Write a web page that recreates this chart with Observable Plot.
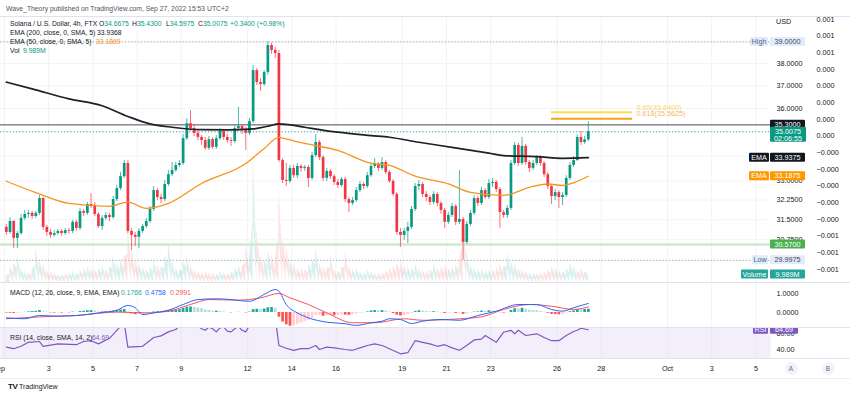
<!DOCTYPE html>
<html><head><meta charset="utf-8">
<script src="https://cdn.jsdelivr.net/npm/d3@7"></script>
<script src="https://cdn.jsdelivr.net/npm/@observablehq/plot@0.6"></script>
<style>
body{margin:0;background:#fff;}
#root{position:relative;width:850px;height:394px;overflow:hidden;background:#fff;font-family:"Liberation Sans",Arial,sans-serif;color:#131722;}
.layer{position:absolute;left:0;width:850px;}
.layer svg{display:block;}
.txt{position:absolute;white-space:nowrap;font-size:6.8px;line-height:9px;z-index:5;}
.hl{position:absolute;left:0;width:850px;height:1px;background:#e0e3eb;z-index:4;}
.btn{position:absolute;width:13px;height:13px;border-radius:50%;background:#f0f3fa;color:#6a6d78;font-size:6.5px;line-height:13px;text-align:center;z-index:5;}
</style></head>
<body><div id="root">
<div class="txt" style="left:6px;top:3.5px;color:#50535e;">Wave_Theory published on TradingView.com, Sep 27, 2022 15:53 UTC+2</div>
<div class="hl" style="top:16px;"></div>
<div id="vol" class="layer" style="top:17px;"></div>
<div id="price" class="layer" style="top:17px;"></div>
<div id="aux" class="layer" style="top:0px;"></div>
<div class="hl" style="top:282px;"></div>
<div id="macd" class="layer" style="top:283px;"></div>
<div class="hl" style="top:327px;"></div>
<div id="rsi" class="layer" style="top:327px;"></div>
<div class="hl" style="top:358px;"></div>
<div id="xaxis" class="layer" style="top:358px;"></div>
<div class="hl" style="top:378px;background:#eceef2;"></div>
<div id="legend"></div>
</div>
<script>
// ---------------- DATA ----------------
const startTime = "2022-09-01T00:00:00Z";
const candleHours = 4;
const openFirst = 31.21;
const closes = [
 31.02,31.43,30.80,30.98,31.55,31.70, 31.74,31.62,31.74,32.31,31.21,31.02,
 30.91,30.98,31.06,30.98,31.09,31.06, 31.40,31.17,31.81,31.74,32.08,32.04,
 31.70,31.24,31.55,31.66,31.58,32.27, 32.70,33.17,33.70,31.06,30.91,30.84,
 31.06,31.24,31.43,31.89,32.62,32.35, 32.27,32.86,33.25,33.42,33.62,33.70,
 34.72,35.35,35.14,34.94,34.77,34.64, 34.32,34.68,34.36,34.72,35.02,34.77,
 34.64,34.60,35.14,35.23,35.06,34.94, 35.44,37.68,37.14,37.05,37.59,38.83,
 38.60,38.46,33.82,33.02,32.98,33.50, 33.21,33.58,33.50,33.54,33.10,34.02,
 34.56,33.94,33.10,33.38,33.17,32.94, 32.82,33.06,32.27,32.12,32.23,32.62,
 32.86,32.78,33.21,33.58,33.66,33.50, 33.74,33.34,32.98,32.47,31.02,30.91,
 31.06,31.21,31.89,32.78,32.86,32.47, 32.35,32.16,32.47,32.12,31.85,31.40,
 31.66,32.00,31.40,31.51,30.65,31.32, 31.74,32.31,32.12,32.62,32.35,32.90,
 32.94,32.66,31.77,31.66,31.93,33.70, 34.44,33.70,34.40,33.74,33.50,33.70,
 33.94,33.70,33.25,32.78,32.39,32.54, 32.35,32.43,33.10,33.62,33.82,34.77,
 34.56,34.6675,35.0075];
const highs = [
 31.32,31.58,31.47,31.06,31.70,31.85, 31.85,31.81,31.81,32.43,32.35,31.28,
 31.13,31.09,31.13,31.13,31.17,31.17, 31.47,31.47,31.93,31.89,32.16,32.50,
 32.16,31.77,31.66,31.77,31.74,32.39, 32.82,33.34,33.82,33.82,31.17,31.02,
 31.17,31.32,31.55,32.00,32.78,32.70, 32.47,33.02,33.42,33.74,33.74,33.82,
 34.89,35.57,35.91,35.31,35.06,34.85, 34.77,34.81,34.77,34.85,35.14,35.10,
 34.89,34.77,35.27,36.05,35.31,35.19, 35.57,37.91,37.77,37.32,37.68,39.00,
 38.95,38.74,38.60,33.90,33.70,33.62, 33.62,33.70,33.66,33.62,33.62,34.15,
 34.89,34.64,34.02,33.50,33.46,33.25, 33.06,33.14,33.14,32.35,32.35,32.74,
 32.98,32.94,33.34,33.70,33.90,33.74, 33.94,33.82,33.42,33.06,32.54,31.17,
 31.17,31.40,32.00,32.90,33.02,32.94, 32.58,32.43,32.58,32.54,32.19,31.93,
 31.77,32.12,32.08,33.42,31.58,31.43, 31.85,32.43,32.39,32.74,32.70,33.06,
 33.10,33.02,32.74,31.85,32.04,33.82, 34.56,34.52,34.77,34.48,33.82,33.82,
 34.02,34.02,33.78,33.34,32.86,32.66, 32.62,32.54,33.21,33.74,33.98,34.89,
 35.02,34.81,35.43];
const lows = [
 30.91,30.95,30.43,30.43,30.91,31.47, 31.55,31.51,31.55,31.66,31.09,30.87,
 30.80,30.84,30.91,30.87,30.91,30.95, 30.98,31.06,31.09,31.62,31.66,31.93,
 31.62,31.17,31.09,31.47,31.43,31.51, 32.19,32.62,33.10,30.98,30.35,30.50,
 30.43,30.98,31.17,31.36,31.81,32.23, 32.12,32.19,32.78,33.17,33.34,33.54,
 33.62,34.64,35.02,34.81,34.64,34.44, 34.23,34.23,34.27,34.27,34.64,34.64,
 34.52,34.40,34.52,35.06,34.89,34.23, 34.85,35.35,37.01,36.75,36.97,37.46,
 38.42,38.23,33.74,32.90,32.78,32.90, 33.10,33.10,33.34,33.38,32.74,33.02,
 33.94,33.82,32.98,32.98,33.06,32.82, 32.70,32.74,32.16,31.77,32.04,32.16,
 32.54,32.66,32.70,33.14,33.50,33.38, 33.42,33.25,32.90,32.39,30.91,30.47,
 30.72,30.61,31.13,31.81,32.62,32.35, 32.19,32.04,32.08,32.00,31.70,31.17,
 31.32,31.58,31.28,31.32,29.9975,30.58, 31.24,31.66,32.00,32.04,32.27,32.27,
 32.74,32.54,31.17,31.55,31.55,31.85, 33.62,33.58,33.62,33.62,33.34,33.42,
 33.62,33.58,33.14,32.66,32.08,32.23, 31.93,32.04,32.35,33.02,33.54,33.78,
 34.44,34.48,34.5975];
// volume, millions
const volumes = [
 8,10,12,17,9,7, 6,8,22,14,12,8, 7,6,5,5,6,6, 7,6,8,9,10,9,
 8,9,11,8,10,17, 12,14,16,35,22,14, 12,10,8,9,14,11, 10,16,27,14,9,8,
 13,17,11,8,7,6, 7,6,6,5,7,6, 6,7,9,11,10,24, 16,80,34,18,14,20,
 18,14,60,30,24,14, 12,9,10,8,12,14, 22,12,10,9,17,8, 7,9,19,10,8,9,
 7,6,8,7,6,6, 6,8,9,10,12,13, 11,10,9,12,9,8, 7,8,12,9,10,11,
 9,10,11,14,46,20, 11,9,8,9,7,8, 8,9,12,10,19,14, 12,9,8,7,6,6,
 6,6,7,8,10,9, 8,7,9,12,10,8, 9,7,9.989];
// MACD histogram per candle
const macdHist = [
 -0.03,-0.04,-0.05,-0.04,-0.02,0.01, 0.03,0.05,0.06,0.1,0.04,0.02,
 -0.02,-0.03,-0.02,-0.03,-0.01,-0.02, 0.02,0.01,0.05,0.06,0.09,0.1,
 0.07,0.02,0.03,0.04,0.03,0.07, 0.1,0.13,0.16,0.02,-0.08,-0.12,
 -0.11,-0.09,-0.06,-0.03,0.03,0.04, 0.03,0.07,0.1,0.12,0.14,0.15,
 0.22,0.28,0.29,0.27,0.24,0.2, 0.13,0.11,0.07,0.07,0.06,0.03,
 0,-0.02,0,0.01,0,-0.02, 0.02,0.15,0.17,0.16,0.18,0.25,
 0.26,0.22,-0.25,-0.5,-0.65,-0.72, -0.7,-0.62,-0.55,-0.48,-0.42,-0.3,
 -0.15,-0.14,-0.2,-0.17,-0.16,-0.17, -0.16,-0.12,-0.14,-0.15,-0.12,-0.08,
 -0.04,-0.02,0.03,0.08,0.1,0.09, 0.1,0.07,0.02,-0.06,-0.14,-0.18,
 -0.15,-0.12,-0.05,0.05,0.09,0.07, 0.05,0.03,0.04,0.02,-0.01,-0.05,
 -0.04,-0.02,-0.05,-0.04,-0.1,-0.07, -0.03,0.02,0.03,0.07,0.06,0.09,
 0.08,0.06,-0.01,-0.03,-0.02,0.11, 0.2,0.18,0.22,0.17,0.13,0.1,
 0.09,0.06,0.02,-0.04,-0.1,-0.11, -0.12,-0.1,-0.03,0.04,0.08,0.16,
 0.15,0.16,0.1766];
const macdIdx  = [0,5,9,14,19,25,30,33,35,37,40,44,48,52,57,61,66,70,73,74,76,79,82,87,92,95,99,102,104,107,110,113,118,123,128,133,139,144,148,151,154,158];
const macdVals = [-0.28,-0.33,-0.16,-0.19,-0.16,-0.02,0.12,0.37,0.25,-0.11,-0.02,0.12,0.42,0.68,0.72,0.68,0.59,0.95,1.21,1.12,0.42,-0.02,-0.28,-0.51,-0.59,-0.68,-0.54,-0.46,-0.33,-0.37,-0.58,-0.46,-0.37,-0.41,-0.16,0.07,0.42,0.42,0.16,0.07,0.25,0.4758];
const signalIdx  = [0,9,19,30,38,44,50,55,63,69,74,77,82,87,94,100,108,113,123,129,135,142,148,154,158];
const signalVals = [-0.33,-0.23,-0.16,0.02,-0.02,0.07,0.42,0.68,0.65,0.77,1.0,0.77,0.42,-0.02,-0.54,-0.54,-0.33,-0.41,-0.33,-0.23,0.16,0.42,0.33,0.16,0.2991];
const rsiIdx  = [0,2,4,6,9,10,14,19,21,23,25,28,30,31,32,33,37,40,42,44,46,47,48,49,50,51,52,53,54,55,56,57,58,59,60,61,62,63,64,65,66,67,70,72,73,74,76,78,80,82,84,85,87,89,92,94,96,98,100,102,104,107,109,111,113,115,117,119,121,123,125,127,129,130,133,135,137,138,139,141,144,146,148,150,152,154,155,156,158];
const rsiVals = [43,41,44,49,50,44,47,46,50,51,47,54,64,69,73,43,44,55,57,62,65,70,76,79,75,71,69,66,64,68,66,62,67,68,63,62,66,69,64,62,70,80,81,83,80,45,41.6,39,41,41,45,40,43,42,40,39,42,45,47,45,41,34.6,36,51,49,47,44,46,42,39,45,52,53,57.5,49,61.6,64,59.6,64,57.5,59.6,55,51,51,57.5,62.5,64,66.6,64.69];
const ema200Idx  = [0,7,17,26,33,39,45,53,60,67,71,74,77,81,90,99,104,112,121,131,135,144,151,158];
const ema200Vals = [37.16,36.86,36.42,36.12,35.66,35.34,35.20,35.10,35.09,35.13,35.24,35.34,35.30,35.20,34.99,34.85,34.78,34.57,34.36,34.12,34.02,33.98,33.91,33.9368];
const ema50Idx  = [0,8,17,28,33,38,44,53,65,70,74,75,81,90,99,104,111,120,126,135,142,147,151,153,158];
const ema50Vals = [32.99,32.54,32.12,32.01,32.17,31.93,32.12,32.90,33.70,34.31,34.77,34.74,34.52,34.23,33.71,33.62,33.19,32.88,32.55,32.43,32.75,32.88,32.82,32.88,33.1869];
const priceTicks = [38, 37, 36, 33, 32.25, 31.5, 30.75];
const priceGrid = [39, 38, 37, 36, 35, 34, 33, 32.25, 31.5, 30.75, 30];
const auxTickValues = [0.0007,0.0006,0.0005,0.0004,0.0003,0.0002,0.0001,0,-0.0001,-0.0002,-0.0003,-0.0004,-0.0005,-0.0006,-0.0007,-0.0008];
const auxTickLabels = ["0.001","0.001","0.001","0.000","0.000","0.000","0.000","0.000","−0.000","−0.000","−0.000","−0.000","−0.000","−0.001","−0.001","−0.001"];
const macdTicks = [1, 0];
const rsiTicks = [60, 40];
const dateTicks = ["2022-09-01","2022-09-03","2022-09-05","2022-09-07","2022-09-09","2022-09-12","2022-09-14","2022-09-16","2022-09-19","2022-09-21","2022-09-23","2022-09-26","2022-09-28","2022-10-01","2022-10-03","2022-10-05"];
const dateLabels = ["Sep","3","5","7","9","12","14","16","19","21","23","26","28","Oct","3","5"];
const levelHigh = 39.0, levelLow = 29.9975, levelResist = 35.3, levelSupport = 30.57, lastPrice = 35.0075;
const fibLevels = [35.84, 35.5625];
const fibNames = ["0.65(35.8400)", "0.618(35.5625)"];
const fibStart = "2022-09-25T18:00:00Z", fibEnd = "2022-09-29T10:00:00Z";

// ---------------- BUILD ----------------
const FONT = '"Liberation Sans", Arial, sans-serif';
const G = "#089981", R = "#f23645";
const HOUR = 3600e3;
const t0 = Date.parse(startTime);
const at = i => new Date(t0 + (i * candleHours + candleHours / 2) * HOUR);
const xDomain = [new Date("2022-08-31T19:40:00Z"), new Date("2022-10-05T15:50:00Z")];
const candles = closes.map((c, i) => {
  const o = i === 0 ? openFirst : closes[i - 1];
  return {t: at(i), open: o, close: c, high: highs[i], low: lows[i], vol: volumes[i], hist: macdHist[i], up: c >= o};
});
candles.forEach((d, i) => {
  const prev = i === 0 ? 0 : candles[i - 1].hist;
  d.hc = d.hist >= 0 ? (d.hist >= prev ? "#26a69a" : "#b2dfdb") : (d.hist < prev ? "#ff5252" : "#ffcdd2");
  d.cc = d.up ? G : R;
});
const gridRows = dateTicks.map(s => ({t: new Date(s)}));
const series = (idx, vals) => idx.map((k, j) => ({t: at(k), v: vals[j]}));

const base = (h) => ({
  width: 850, height: h, marginLeft: 0, marginRight: 80, marginTop: 0, marginBottom: 0,
  x: {type: "utc", domain: xDomain, axis: null},
  color: {type: "identity"},
  style: {background: "transparent", overflow: "hidden", fontFamily: FONT, fontSize: "7.2px", color: "#131722"}
});

function boxes(items) {
  return (index, scales) => {
    const g = d3.create("svg:g");
    for (const it of items) {
      const yc = scales.y(it.value);
      for (const p of it.parts) {
        const h = p.h || 9;
        const top = yc - 4.5;
        g.append("rect").attr("x", p.x).attr("y", top).attr("width", p.w).attr("height", h)
          .attr("fill", p.bg).attr("rx", 1);
        [].concat(p.text).forEach((s, k) => {
          g.append("text").attr("x", p.x + p.w / 2).attr("y", top + 4.5 + k * 7)
            .attr("dy", "0.35em").attr("text-anchor", "middle").attr("fill", p.fg)
            .attr("font-size", 7.2).text(s);
        });
      }
    }
    return g.node();
  };
}
const VX = 770, VW = 35;

// volume overlay
const volSeg = [];
for (let i = 0; i < candles.length - 1; i++) {
  const a = candles[i], b = candles[i + 1];
  const col = (a.vol > b.vol ? a.up : b.up) ? "#26a69a" : "#ef5350";
  volSeg.push({t: a.t, v: a.vol, z: i, f: col}, {t: b.t, v: b.vol, z: i, f: col});
}
const volPlot = Plot.plot({
  ...base(265),
  y: {domain: [0, 331], axis: null},
  marks: [
    Plot.ruleX(gridRows, {x: "t", stroke: "#f1f3f7"}),
    Plot.areaY(volSeg, {x: "t", y: "v", z: "z", fill: "f", fillOpacity: 0.17}),
    boxes([{value: volumes[volumes.length - 1], parts: [
      {x: 741, w: 27, text: "Volume", bg: "#26a69a", fg: "#fff"},
      {x: VX, w: VW, text: "9.989M", bg: "#26a69a", fg: "#fff"}]}])
  ]
});
document.getElementById("vol").append(volPlot);

// price pane
const fibRows = fibLevels.map((v, j) => ({v, start: new Date(fibStart), end: new Date(fibEnd), label: fibNames[j],
  c: j === 0 ? "#f9e04b" : "#f7a21b", tc: j === 0 ? "#f5d570" : "#f5b766"}));
const pricePlot = Plot.plot({
  ...base(265),
  y: {type: "log", domain: [29.21, 40.16], axis: null},
  marks: [
    Plot.ruleY(priceGrid, {stroke: "#f3f4f7"}),
    Plot.ruleY([levelSupport], {stroke: "#cfe9d0", strokeWidth: 2.5}),
    Plot.ruleY([levelHigh, levelLow], {stroke: "#9ea1aa", strokeDasharray: "1.2,2"}),
    Plot.ruleY([lastPrice], {stroke: G, strokeDasharray: "1.2,2", strokeOpacity: 0.8}),
    Plot.ruleY([levelResist], {stroke: "#4a4d55", strokeWidth: 1}),
    Plot.ruleY(fibRows, {y: "v", x1: "start", x2: "end", stroke: "c", strokeWidth: 2}),
    Plot.text(fibRows, {x: "end", y: "v", text: "label", fill: "tc", textAnchor: "start", dx: 4, dy: -5, fontSize: 7.2}),
    Plot.ruleX(candles, {x: "t", y1: "low", y2: "high", stroke: "cc", strokeWidth: 1, strokeOpacity: 0.7}),
    Plot.ruleX(candles, {x: "t", y1: "open", y2: "close", stroke: "cc", strokeWidth: 2.7}),
    Plot.line(series(ema50Idx, ema50Vals), {x: "t", y: "v", stroke: "#f7931e", strokeWidth: 1.3, curve: "monotone-x"}),
    Plot.line(series(ema200Idx, ema200Vals), {x: "t", y: "v", stroke: "#1e2028", strokeWidth: 1.7, curve: "monotone-x"}),
    Plot.text(priceTicks, {y: d => d, text: d => d.toFixed(4), frameAnchor: "right", dx: 6, textAnchor: "start", fill: "#131722", fontSize: 7.2}),
    boxes([
      {value: levelHigh, parts: [{x: 750, w: 18, text: "High", bg: "#e1ebf9", fg: "#56657f"}, {x: VX, w: VW, text: "39.0000", bg: "#e1ebf9", fg: "#3d4657"}]},
      {value: levelResist, parts: [{x: VX, w: VW, text: "35.3000", bg: "#131722", fg: "#fff"}]},
      {value: lastPrice, parts: [{x: VX, w: 36, h: 15, text: ["35.0075", "02:06:55"], bg: "#089981", fg: "#fff"}]},
      {value: 33.9368, parts: [{x: 749, w: 20, text: "EMA", bg: "#131722", fg: "#fff"}, {x: VX, w: VW, text: "33.9375", bg: "#131722", fg: "#fff"}]},
      {value: 33.1869, parts: [{x: 749, w: 20, text: "EMA", bg: "#ff9800", fg: "#fff"}, {x: VX, w: VW, text: "33.1875", bg: "#ff9800", fg: "#fff"}]},
      {value: levelSupport, parts: [{x: VX, w: VW, text: "30.5700", bg: "#4caf50", fg: "#fff"}]},
      {value: levelLow, parts: [{x: 752, w: 16, text: "Low", bg: "#e1ebf9", fg: "#56657f"}, {x: VX, w: VW, text: "29.9975", bg: "#e1ebf9", fg: "#3d4657"}]}
    ])
  ]
});
document.getElementById("price").append(pricePlot);

// auxiliary right scale (spans page y 0..282)
const auxPlot = Plot.plot({
  ...base(282),
  y: {domain: [-0.000878, 0.000814], axis: null},
  marks: [
    Plot.text(auxTickValues, {y: d => d, text: (d, i) => auxTickLabels[i], frameAnchor: "right", dx: 46, textAnchor: "start", fill: "#131722", fontSize: 7.2})
  ]
});
document.getElementById("aux").append(auxPlot);

// MACD pane
const macdPlot = Plot.plot({
  ...base(44),
  y: {domain: [-0.79, 1.526], axis: null},
  marks: [
    Plot.ruleX(gridRows, {x: "t", stroke: "#f1f3f7"}),
    Plot.ruleX(candles, {x: "t", y1: 0, y2: "hist", stroke: "hc", strokeWidth: 2.7}),
    Plot.line(series(signalIdx, signalVals), {x: "t", y: "v", stroke: "#f7525f", strokeWidth: 1, curve: "monotone-x"}),
    Plot.line(series(macdIdx, macdVals), {x: "t", y: "v", stroke: "#2962ff", strokeWidth: 1, curve: "monotone-x"}),
    Plot.text(macdTicks, {y: d => d, text: d => d.toFixed(4), frameAnchor: "right", dx: 6, textAnchor: "start", fill: "#131722", fontSize: 7.2})
  ]
});
document.getElementById("macd").append(macdPlot);

// RSI pane
const rsiPlot = Plot.plot({
  ...base(31),
  y: {domain: [28.75, 67.5], axis: null},
  marks: [
    Plot.frame({fill: "#f3effa", stroke: null}),
    Plot.ruleX(gridRows, {x: "t", stroke: "#ebe6f5"}),
    Plot.line(series(rsiIdx, rsiVals), {x: "t", y: "v", stroke: "#7e57c2", strokeWidth: 1.2, clip: true}),
    Plot.text(rsiTicks, {y: d => d, text: d => d.toFixed(2), frameAnchor: "right", dx: 6, textAnchor: "start", fill: "#131722", fontSize: 7.2}),
    boxes([{value: rsiVals[rsiVals.length - 1], parts: [
      {x: 753, w: 15, text: "RSI", bg: "#7e57c2", fg: "#fff"},
      {x: VX, w: 28, text: "64.69", bg: "#7e57c2", fg: "#fff"}]}])
  ]
});
document.getElementById("rsi").append(rsiPlot);

// X axis
const tickRows = dateTicks.map((s, i) => ({t: new Date(s), label: dateLabels[i]}));
const xPlot = Plot.plot({
  ...base(20),
  y: {domain: [0, 1], axis: null},
  marks: [
    Plot.text(tickRows.slice(1), {x: "t", text: "label", frameAnchor: "middle", fill: "#131722", fontSize: 7.2}),
    Plot.text(tickRows.slice(0, 1), {x: "t", text: "label", frameAnchor: "middle", dx: -6, fill: "#131722", fontSize: 7.2})
  ]
});
document.getElementById("xaxis").append(xPlot);

// legends (HTML text)
const L = document.getElementById("legend");
function put(left, top, html, extra) {
  const d = document.createElement("div");
  d.className = "txt"; d.style.left = left + "px"; d.style.top = top + "px";
  if (extra) d.style.cssText += extra;
  d.innerHTML = html; L.append(d);
}
const TEAL = "#089981";
put(10, 19, "Solana / U.S. Dollar, 4h, FTX");
put(99, 19, `O<span style="color:${TEAL}">34.6675</span>`);
put(132, 19, `H<span style="color:${TEAL}">35.4300</span>`);
put(166, 19, `L<span style="color:${TEAL}">34.5975</span>`);
put(198, 19, `C<span style="color:${TEAL}">35.0075</span>`);
put(230, 19, `<span style="color:${TEAL}">+0.3400 (+0.98%)</span>`);
put(10, 28, "EMA (200, close, 0, SMA, 5)");
put(97, 28, "33.9368");
put(10, 37, "EMA (50, close, 0, SMA, 5)");
put(96, 37, `<span style="color:#f7931e">33.1869</span>`);
put(10, 46, "Vol");
put(23, 46, `<span style="color:${TEAL}">9.989M</span>`);
put(776, 16.5, "USD", "font-size:7.2px;");
put(10, 287.5, "MACD (12, 26, close, 9, EMA, EMA)");
put(121, 287.5, `<span style="color:#26a69a">0.1766</span>`);
put(145, 287.5, `<span style="color:#2962ff">0.4758</span>`);
put(170, 287.5, `<span style="color:#f7525f">0.2991</span>`);
put(10, 332.5, "RSI (14, close, SMA, 14, 2)");
put(92, 332.5, `<span style="color:#7e57c2">64.69</span>`);
put(8, 381.5, `<b style="font-size:8px;letter-spacing:-0.5px">TV</b> TradingView`, "font-size:7px;");
const bA = document.createElement("div"); bA.className = "btn"; bA.style.left = "784.5px"; bA.style.top = "361.5px"; bA.textContent = "A"; L.append(bA);
const bB = document.createElement("div"); bB.className = "btn"; bB.style.left = "821.5px"; bB.style.top = "361.5px"; bB.textContent = "B"; L.append(bB);
</script>
</body></html>
